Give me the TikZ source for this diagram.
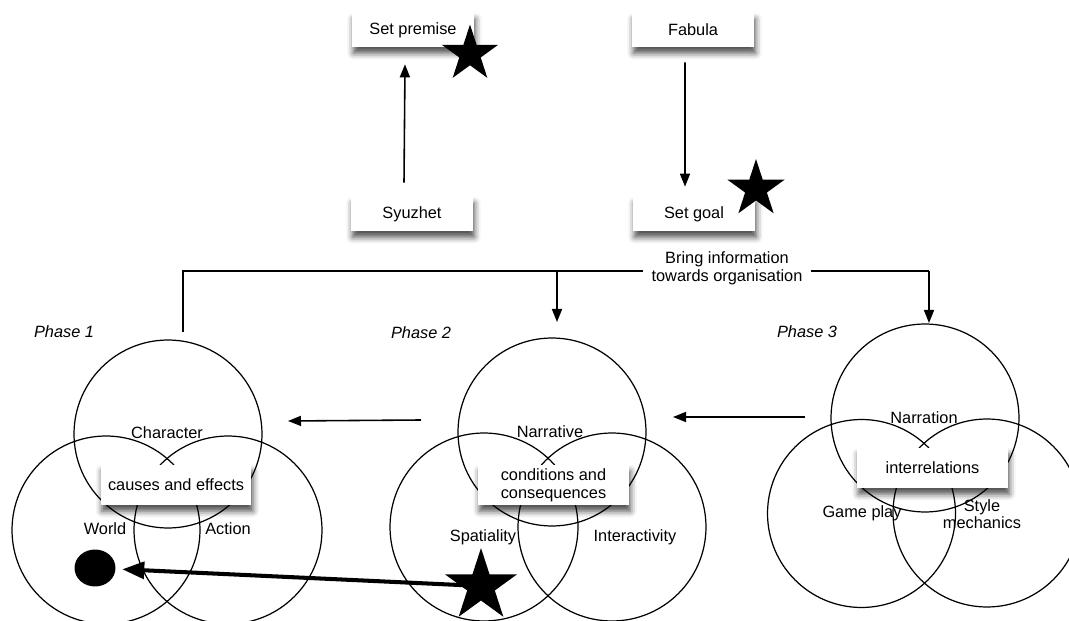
\documentclass[tikz,border=0pt]{standalone}
\usepackage{fontspec}
\setmainfont{Liberation Sans}
\usetikzlibrary{arrows.meta,shapes.geometric,shadows.blur}

\begin{document}
\begin{tikzpicture}[
            x=0.02cm, y=-0.02cm,
            font=\fontsize{9.3}{10}\selectfont,
            ring/.style={
                circle, draw, line width=0.7pt,
                minimum size=3.76cm, inner sep=0pt
            },
            card/.style={
                fill=white, inner sep=0pt,
                minimum width=2.44cm, minimum height=0.68cm,
                blur shadow={shadow xshift=0.8pt, shadow yshift=-3.5pt,
                    shadow blur radius=3.5pt, shadow opacity=70}
            },
            tag/.style={
                card, align=center,
                minimum width=3.02cm, minimum height=0.8cm
            },
            phase/.style={
                font=\fontsize{9.3}{10}\selectfont\itshape
            },
            flow/.style={
                line width=0.9pt,
                -{Triangle[length=7.4pt,width=5.7pt]}
            },
            bold flow/.style={
                line width=2.3pt,
                -{Triangle[length=12.5pt,width=9.6pt]}
            },
            starmark/.style={
                star, star points=5, star point ratio=2.618,
                fill=black, inner sep=0pt
            }
        ]
        \useasboundingbox (0,0) rectangle (1069,621);

        \node[card] (premise) at (413,30) {Set premise};
        \node[card] (fabula) at (693,30) {Fabula};
        \node[card] (syuzhet) at (412,214) {Syuzhet};
        \node[card] (goal) at (694,214) {Set goal};
        \node[starmark, minimum size=1.18cm] (premisestar) at (470,54) {};
        \node[starmark, minimum size=1.2cm] (goalstar) at (756,189) {};
        \draw[flow] ([xshift=-0.16cm,yshift=0.28cm]syuzhet.north) -- ([xshift=-0.16cm,yshift=-0.34cm]premise.south);
        \draw[flow] ([xshift=-0.16cm,yshift=-0.3cm]fabula.south) -- ([xshift=-0.18cm,yshift=0.2cm]goal.north);

        \begin{scope}[shift={(168,434)}]
            \node[ring] (character) at (0,0) {};
            \node[ring] (world) at (-62,96) {};
            \node[ring] (action) at (60,96) {};
            \node (characterlbl) at (-1,-1) {Character};
            \node (worldlbl) at (-63,95) {World};
            \node (actionlbl) at (60,95) {Action};
            \node[tag] (causes) at (8,51) {causes and effects};
            \node[phase] (phaseone) at (-104,-102) {Phase 1};
            \node[ellipse, fill=black, inner sep=0pt,
                minimum width=0.82cm, minimum height=0.74cm] (dot) at (-73,134) {};
            \coordinate (p1up) at (15,-102);
            \coordinate (p1in) at (120,-13);
        \end{scope}

        \begin{scope}[shift={(552,432)}]
            \node[ring] (narrative) at (0,0) {};
            \node[ring] (spatiality) at (-68,95) {};
            \node[ring] (interactivity) at (60,95) {};
            \node (narrativelbl) at (-2,0) {Narrative};
            \node (spatialitylbl) at (-69,105) {Spatiality};
            \node (interactivitylbl) at (83,105) {Interactivity};
            \node[tag] (conditions) at (1.5,53) {conditions and\\consequences};
            \node[phase] (phasetwo) at (-131,-99) {Phase 2};
            \node[starmark, minimum size=1.52cm] (bigstar) at (-71,154) {};
            \coordinate (p2out) at (-131,-12);
            \coordinate (p2top) at (5,-110);
            \coordinate (p2in) at (121,-15);
        \end{scope}

        \begin{scope}[shift={(925,418)}]
            \node[ring] (narration) at (0,0) {};
            \node[ring] (gameplay) at (-63.5,95.5) {};
            \node[ring] (stylemech) at (62,95) {};
            \node (narrationlbl) at (-1,0) {Narration};
            \node (gameplaylbl) at (-63,95) {Game play};
            \node[align=center] (stylemechlbl) at (57,96) {Style\\mechanics};
            \node[tag] (interrel) at (7.5,50) {interrelations};
            \node[phase] (phasethree) at (-118,-86) {Phase 3};
            \coordinate (p3out) at (-120,-1);
            \coordinate (p3top) at (4,-95);
        \end{scope}

        \draw[flow] (p2out) -- (p1in);
        \draw[flow] (p3out) -- (p2in);
        \draw[bold flow, shorten >=0.13cm] (bigstar.center) -- (dot);

        \coordinate (fork) at (557,271);
        \coordinate (branch) at (929,271);
        \draw[line width=0.7pt] (p1up) |- (branch);
        \draw[flow] (fork) -- (p2top);
        \draw[flow] (branch) -- (p3top);
        \node[fill=white, align=center, inner xsep=0.18cm, inner ysep=0pt] (bring) at (727,268) {Bring information\\towards organisation};
        \end{tikzpicture}
\end{document}
